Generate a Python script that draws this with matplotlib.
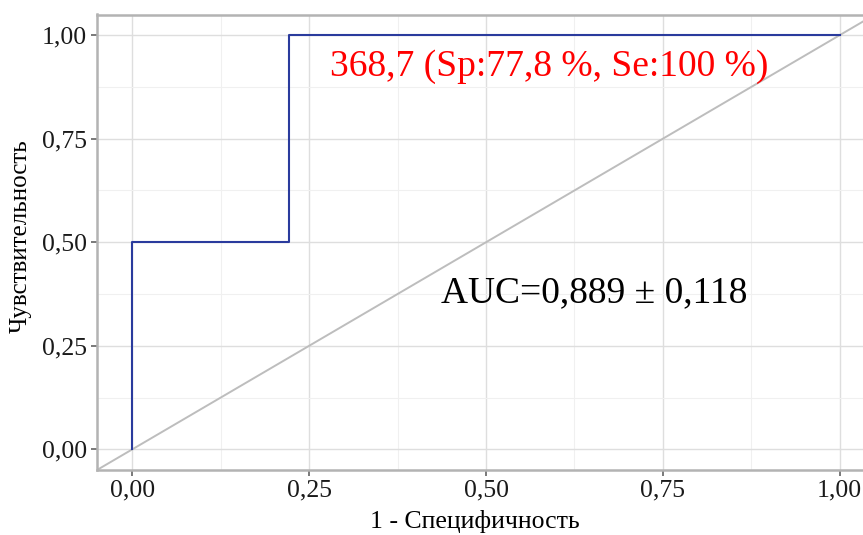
import numpy as np
import matplotlib.pyplot as plt
from matplotlib.ticker import FixedLocator, FuncFormatter

plt.rcParams['font.family'] = ['Liberation Serif', 'DejaVu Serif']

# ROC curve points
fpr = [0.0, 0.0, 0.222, 0.222, 1.0]
tpr = [0.0, 0.5, 0.5, 1.0, 1.0]

ticks = [0.0, 0.25, 0.5, 0.75, 1.0]
minor_ticks = [0.125, 0.375, 0.625, 0.875]

cutoff_label = "368,7 (Sp:77,8 %, Se:100 %)"
auc_label = "AUC=0,889 \u00b1 0,118"

W, H = 863, 535
fig = plt.figure(figsize=(W / 100, H / 100), dpi=100)

# panel edges in pixels; the right side runs past the figure edge
left, right, top, bottom = 97, 875, 14.5, 470
ax = fig.add_axes([left / W, 1 - bottom / H, (right - left) / W, (bottom - top) / H])

ax.set_xlim(-0.05, 1.05)
ax.set_ylim(-0.05, 1.05)

ax.xaxis.set_major_locator(FixedLocator(ticks))
ax.yaxis.set_major_locator(FixedLocator(ticks))
ax.xaxis.set_minor_locator(FixedLocator(minor_ticks))
ax.yaxis.set_minor_locator(FixedLocator(minor_ticks))
fmt = FuncFormatter(lambda v, p: f"{v:.2f}".replace('.', ','))
ax.xaxis.set_major_formatter(fmt)
ax.yaxis.set_major_formatter(fmt)

ax.grid(which='major', color='#dedede', linewidth=1.0)
ax.grid(which='minor', color='#f0f0f0', linewidth=0.8)
ax.set_axisbelow(True)

for side, sp in ax.spines.items():
    sp.set_color('#b3b3b3')
    sp.set_linewidth(1.8)

ax.tick_params(which='major', length=4, width=1.1, color='#555555',
               labelsize=18.5, labelcolor='#1a1a1a', pad=3)
ax.tick_params(which='minor', length=0)

# chance diagonal
ax.plot([-0.05, 1.05], [-0.05, 1.05], color='#bdbdbd', linewidth=1.4, zorder=2)

# ROC step curve
ax.plot(fpr, tpr, color='#2a3b9d', linewidth=1.5, zorder=3)

ax.text(0.59, 0.923, cutoff_label, color='#ff0000', fontsize=27,
        ha='center', va='center', zorder=4)
ax.text(0.653, 0.377, auc_label, color='black', fontsize=27,
        ha='center', va='center', zorder=4)

ax.set_xlabel('1 - Специфичность', fontsize=18.5)
ax.set_ylabel('Чувствительность', fontsize=18)
ax.xaxis.set_label_coords((475 - left) / (right - left), -(510 - bottom) / (bottom - top))
ax.yaxis.set_label_coords(-(97 - 32) / (right - left), (bottom - 236) / (bottom - top))

fig.savefig('out.png', dpi=100)
